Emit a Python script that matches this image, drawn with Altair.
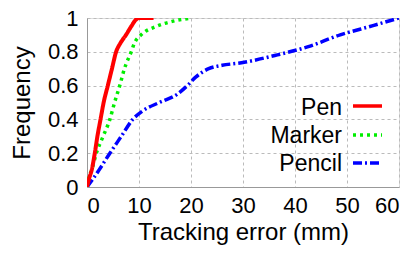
import altair as alt
import pandas as pd

# ---- data ----
pen_x = [0, 0.4, 0.9, 1.5, 2.0, 2.6, 3.2, 4.0, 4.8, 5.6, 6.4, 7.5, 8.5, 9.4, 10.0, 12.8]
pen_y = [0, 0.05, 0.1, 0.2, 0.3, 0.4, 0.5, 0.6, 0.7, 0.8, 0.85, 0.9, 0.95, 0.99, 1.0, 1.0]

marker_x = [0, 0.3, 0.9, 1.8, 3.1, 4.4, 5.3, 6.3, 7.2, 8.5, 9.1, 10.4, 13.3, 16.4, 20.2]
marker_y = [0, 0.05, 0.1, 0.2, 0.3, 0.4, 0.5, 0.6, 0.7, 0.8, 0.85, 0.9, 0.95, 0.98, 1.0]

pencil_x = [0, 1.2, 2.3, 4.4, 6.6, 8.8, 10.7, 13.9, 17.4, 19.3, 20.9, 23.4, 26.0, 29.7, 36.1, 42.4, 48.7, 55.0, 60.0]
pencil_y = [0, 0.05, 0.1, 0.2, 0.3, 0.4, 0.45, 0.5, 0.55, 0.6, 0.65, 0.7, 0.72, 0.735, 0.778, 0.829, 0.9, 0.955, 1.0]

series_names = ["Pen", "Marker", "Pencil"]
series_colors = ["#ff0000", "#00ee00", "#0000ff"]
series_dash = [[1, 0], [3, 4], [9, 3, 2, 3]]
series_width = [4, 3.5, 3.5]

x_ticks = [0, 10, 20, 30, 40, 50, 60]
y_ticks = [0, 0.2, 0.4, 0.6, 0.8, 1.0]

FONT = "Liberation Sans"

xs = alt.Scale(domain=[0, 60], nice=False, zero=False)
ys = alt.Scale(domain=[0, 1], nice=False, zero=False)

x_axis = alt.Axis(values=x_ticks, title="Tracking error (mm)", labelFontSize=22,
                  titleFontSize=24, titleFontWeight="normal", labelPadding=8, titlePadding=4,
                  grid=True, gridDash=[3, 3], gridColor="#bbbbbb", domainColor="#999999",
                  ticks=False, labelColor="black", titleColor="black", labelFont=FONT, titleFont=FONT)
y_axis = alt.Axis(values=y_ticks, title="Frequency", labelFontSize=22,
                  titleFontSize=24, titleFontWeight="normal", labelPadding=9, titlePadding=13,
                  grid=True, gridDash=[3, 3], gridColor="#bbbbbb", domainColor="#999999",
                  ticks=False, labelColor="black", titleColor="black", labelFont=FONT, titleFont=FONT,
                  labelExpr="datum.value == 0 ? '0' : datum.value == 1 ? '1' : format(datum.value, '.1f')")

data_sets = [(pen_x, pen_y), (marker_x, marker_y), (pencil_x, pencil_y)]

layers = []
# draw pencil first, pen last (pen on top)
for i in [2, 1, 0]:
    dx, dy = data_sets[i]
    df = pd.DataFrame({"x": dx, "y": dy, "order": list(range(len(dx)))})
    line = alt.Chart(df).mark_line(
        color=series_colors[i], strokeWidth=series_width[i], strokeDash=series_dash[i],
        interpolate="monotone", clip=True
    ).encode(
        x=alt.X("x:Q", scale=xs, axis=x_axis),
        y=alt.Y("y:Q", scale=ys, axis=y_axis),
        order="order:Q",
    )
    layers.append(line)

# manual legend (text right-aligned, sample line at right)
leg_text_y = [90, 118, 146]
leg_line_y = [88, 117, 145]
for i, name in enumerate(series_names):
    ldf = pd.DataFrame({"label": [name]})
    t = alt.Chart(ldf).mark_text(
        align="right", baseline="middle", fontSize=23, font=FONT, color="black"
    ).encode(text="label:N", x=alt.value(255), y=alt.value(leg_text_y[i]))
    r = alt.Chart(ldf).mark_rule(
        color=series_colors[i], strokeWidth=3.5, strokeDash=series_dash[i]
    ).encode(x=alt.value(266), x2=alt.value(295), y=alt.value(leg_line_y[i]))
    layers += [t, r]

chart = alt.layer(*layers).properties(
    width=312, height=169,
    autosize=alt.AutoSizeParams(type="none"),
    padding={"left": 79, "top": 10, "right": 13, "bottom": 58},
).configure_view(stroke=None).configure(background="white")

chart.save("out.html", embed_options={"renderer": "svg", "actions": False})
